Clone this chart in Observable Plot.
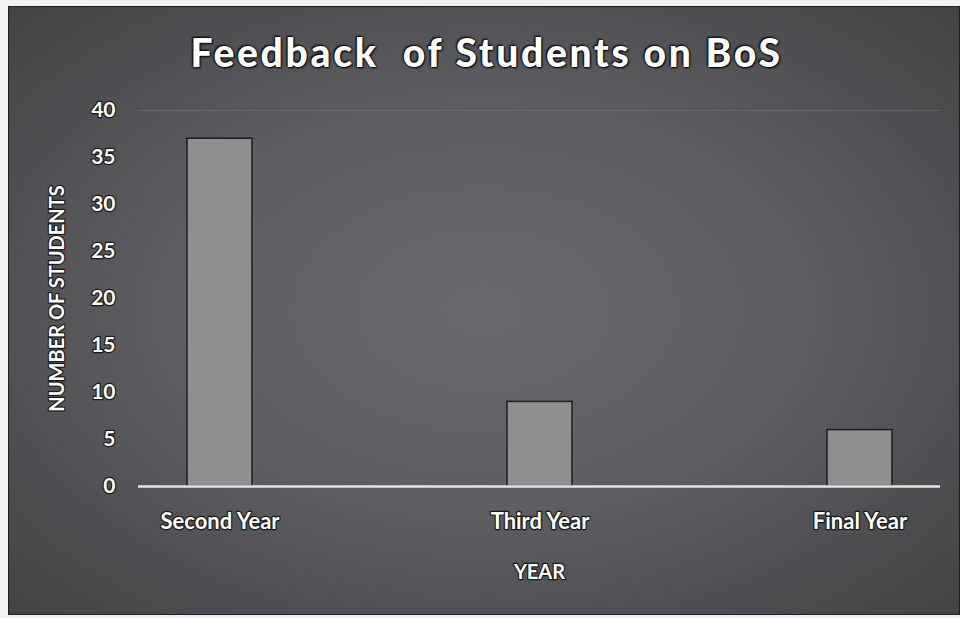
<!DOCTYPE html>
<html><head><meta charset="utf-8">
<script src="https://cdn.jsdelivr.net/npm/d3@7"></script>
<script src="https://cdn.jsdelivr.net/npm/@observablehq/plot@0.6"></script>
<style>
html,body{margin:0;padding:0;background:#f2f2f2;width:960px;height:618px;overflow:hidden;font-family:Lato,"Open Sans",sans-serif;}
#bg{position:absolute;left:8px;top:6px;width:950px;height:607px;border:1px solid #1e1e1e;
 background:radial-gradient(ellipse 75% 75% at 50% 50%, #69696d 0%, #5e5e62 45%, #4a4a4d 80%, #404043 100%);}
#title{position:absolute;left:0;top:29px;width:973px;text-align:center;color:#fff;font-weight:900;font-size:39px;white-space:pre;letter-spacing:2.7px;
 text-shadow:0 0 2px #000,1px 1px 2px #000,-1px -1px 2px #000;}
#chart{position:absolute;left:0;top:95px;}
#chart text{paint-order:stroke;stroke:#1a1a1a;stroke-width:2.5px;stroke-linejoin:round;}
</style></head>
<body>
<div id="bg"></div>
<div id="title">Feedback  of Students on BoS</div>
<div id="chart"></div>
<script>
const years = ["Second Year", "Third Year", "Final Year"];
const students = [37, 9, 6];
const yTicks = [0, 5, 10, 15, 20, 25, 30, 35, 40];
const xTitle = "YEAR";
const yTitle = "NUMBER OF STUDENTS";

const data = years.map((y, i) => ({year: y, n: students[i]}));

const chart = Plot.plot({
  width: 960,
  height: 523,
  marginLeft: 138,
  marginRight: 20,
  marginTop: 15,
  marginBottom: 132,
  style: {background: "transparent", color: "#fff", fontFamily: "Lato, 'Open Sans', sans-serif", fontSize: "21px", fontWeight: "bold"},
  x: {domain: years, paddingInner: 0.797, paddingOuter: 0.1515, label: null},
  y: {domain: [0, 40], label: null},
  marks: [
    Plot.ruleY([40], {stroke: "#8a8a8a", strokeOpacity: 0.35, strokeWidth: 1}),
    Plot.barY(data, {x: "year", y: "n", fill: "#8f8f92", stroke: "#1c1c1c", strokeWidth: 1.5}),
    Plot.ruleY([0], {stroke: "#e4e4e4", strokeWidth: 2.5}),
    Plot.axisY({ticks: yTicks, tickSize: 0, tickPadding: 23, fontSize: 21, label: null}),
    Plot.axisX({tickSize: 0, tickPadding: 27, fontSize: 22, label: null}),
    Plot.text([xTitle], {frameAnchor: "bottom", dy: 92, text: d => d, fill: "#fff", fontSize: 20, fontWeight: "bold"}),
    Plot.text([yTitle], {frameAnchor: "left", textAnchor: "middle", dx: -81, rotate: -90, text: d => d, fill: "#fff", fontSize: 20, fontWeight: "bold"})
  ]
});
document.getElementById("chart").appendChild(chart);
</script>
</body></html>
